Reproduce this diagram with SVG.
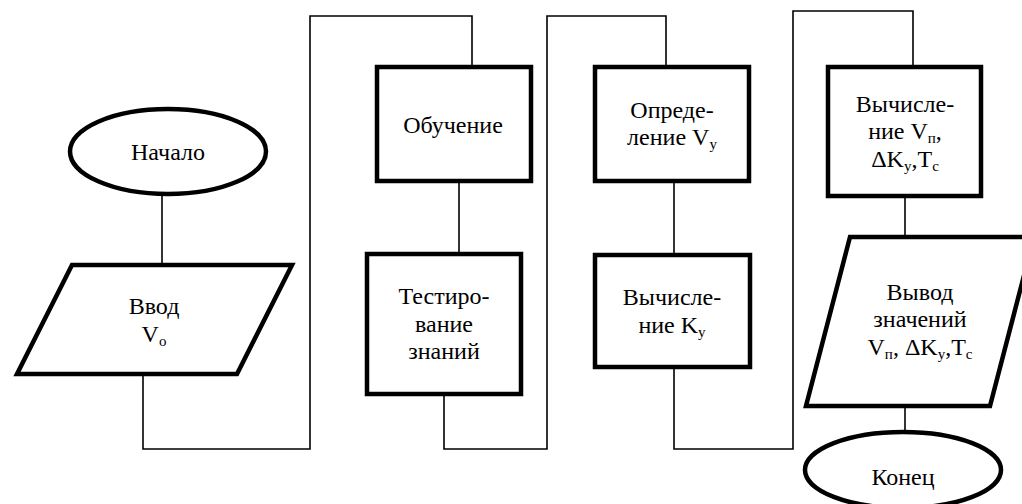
<svg xmlns="http://www.w3.org/2000/svg" width="1022" height="504" viewBox="0 0 1022 504">
<style>
.shape{fill:#fff;stroke:#000;stroke-width:4.5;stroke-linejoin:miter}
.conn{fill:none;stroke:#000;stroke-width:1.6}
text{font-family:'Liberation Serif','Times New Roman','DejaVu Serif',serif;font-size:24px;fill:#000;text-anchor:middle}
.sub{font-size:15px}
</style>
<rect width="1022" height="504" fill="#fff"/>
<g id="connectors">
<path class="conn" d="M162,194 V265"/>
<path class="conn" d="M143,374 V449 H310 V16 H472 V67"/>
<path class="conn" d="M459,181 V254"/>
<path class="conn" d="M444,394 V449 H547 V16 H666 V67"/>
<path class="conn" d="M674,181 V255"/>
<path class="conn" d="M674,367 V449 H793 V11 H913 V67"/>
<path class="conn" d="M905,196 V237"/>
<path class="conn" d="M905,406 V432"/>
</g>
<g id="start">
<ellipse class="shape" cx="168" cy="151.5" rx="98" ry="42.5"/>
<text x="168" y="160" font-family="Liberation Serif, serif">Начало</text>
</g>
<g id="input">
<polygon class="shape" points="72,265 292,265 237,374 17,374"/>
<text x="154" y="314">Ввод</text>
<text x="154" y="342">V<tspan class="sub" dy="4">o</tspan></text>
</g>
<g id="learning">
<rect class="shape" x="377" y="67" width="154" height="114"/>
<text x="453" y="133">Обучение</text>
</g>
<g id="testing">
<rect class="shape" x="367" y="254" width="154" height="140"/>
<text x="444" y="304">Тестиро-</text>
<text x="444" y="332">вание</text>
<text x="444" y="359">знаний</text>
</g>
<g id="define-vy">
<rect class="shape" x="595" y="67" width="154" height="114"/>
<text x="672" y="118">Опреде-</text>
<text x="672" y="145">ление V<tspan class="sub" dy="4">y</tspan></text>
</g>
<g id="calc-ky">
<rect class="shape" x="595" y="255" width="155" height="112"/>
<text x="672" y="305">Вычисле-</text>
<text x="672" y="333">ние K<tspan class="sub" dy="4">y</tspan></text>
</g>
<g id="calc-vp">
<rect class="shape" x="828" y="67" width="153" height="129"/>
<text x="905" y="112">Вычисле-</text>
<text x="905" y="139">ние V<tspan class="sub" dy="4">п</tspan><tspan dy="-4">,</tspan></text>
<text x="905" y="167">ΔK<tspan class="sub" dy="4">y</tspan><tspan dy="-4">,T</tspan><tspan class="sub" dy="4">c</tspan></text>
</g>
<g id="output">
<polygon class="shape" points="850,237 1034,237 990,406 806,406"/>
<text x="920" y="300">Вывод</text>
<text x="920" y="327">значений</text>
<text x="920" y="355">V<tspan class="sub" dy="4">п</tspan><tspan dy="-4">, ΔK</tspan><tspan class="sub" dy="4">y</tspan><tspan dy="-4">,T</tspan><tspan class="sub" dy="4">c</tspan></text>
</g>
<g id="end">
<ellipse class="shape" cx="903" cy="470" rx="98" ry="38"/>
<text x="903" y="485">Конец</text>
</g>
</svg>
